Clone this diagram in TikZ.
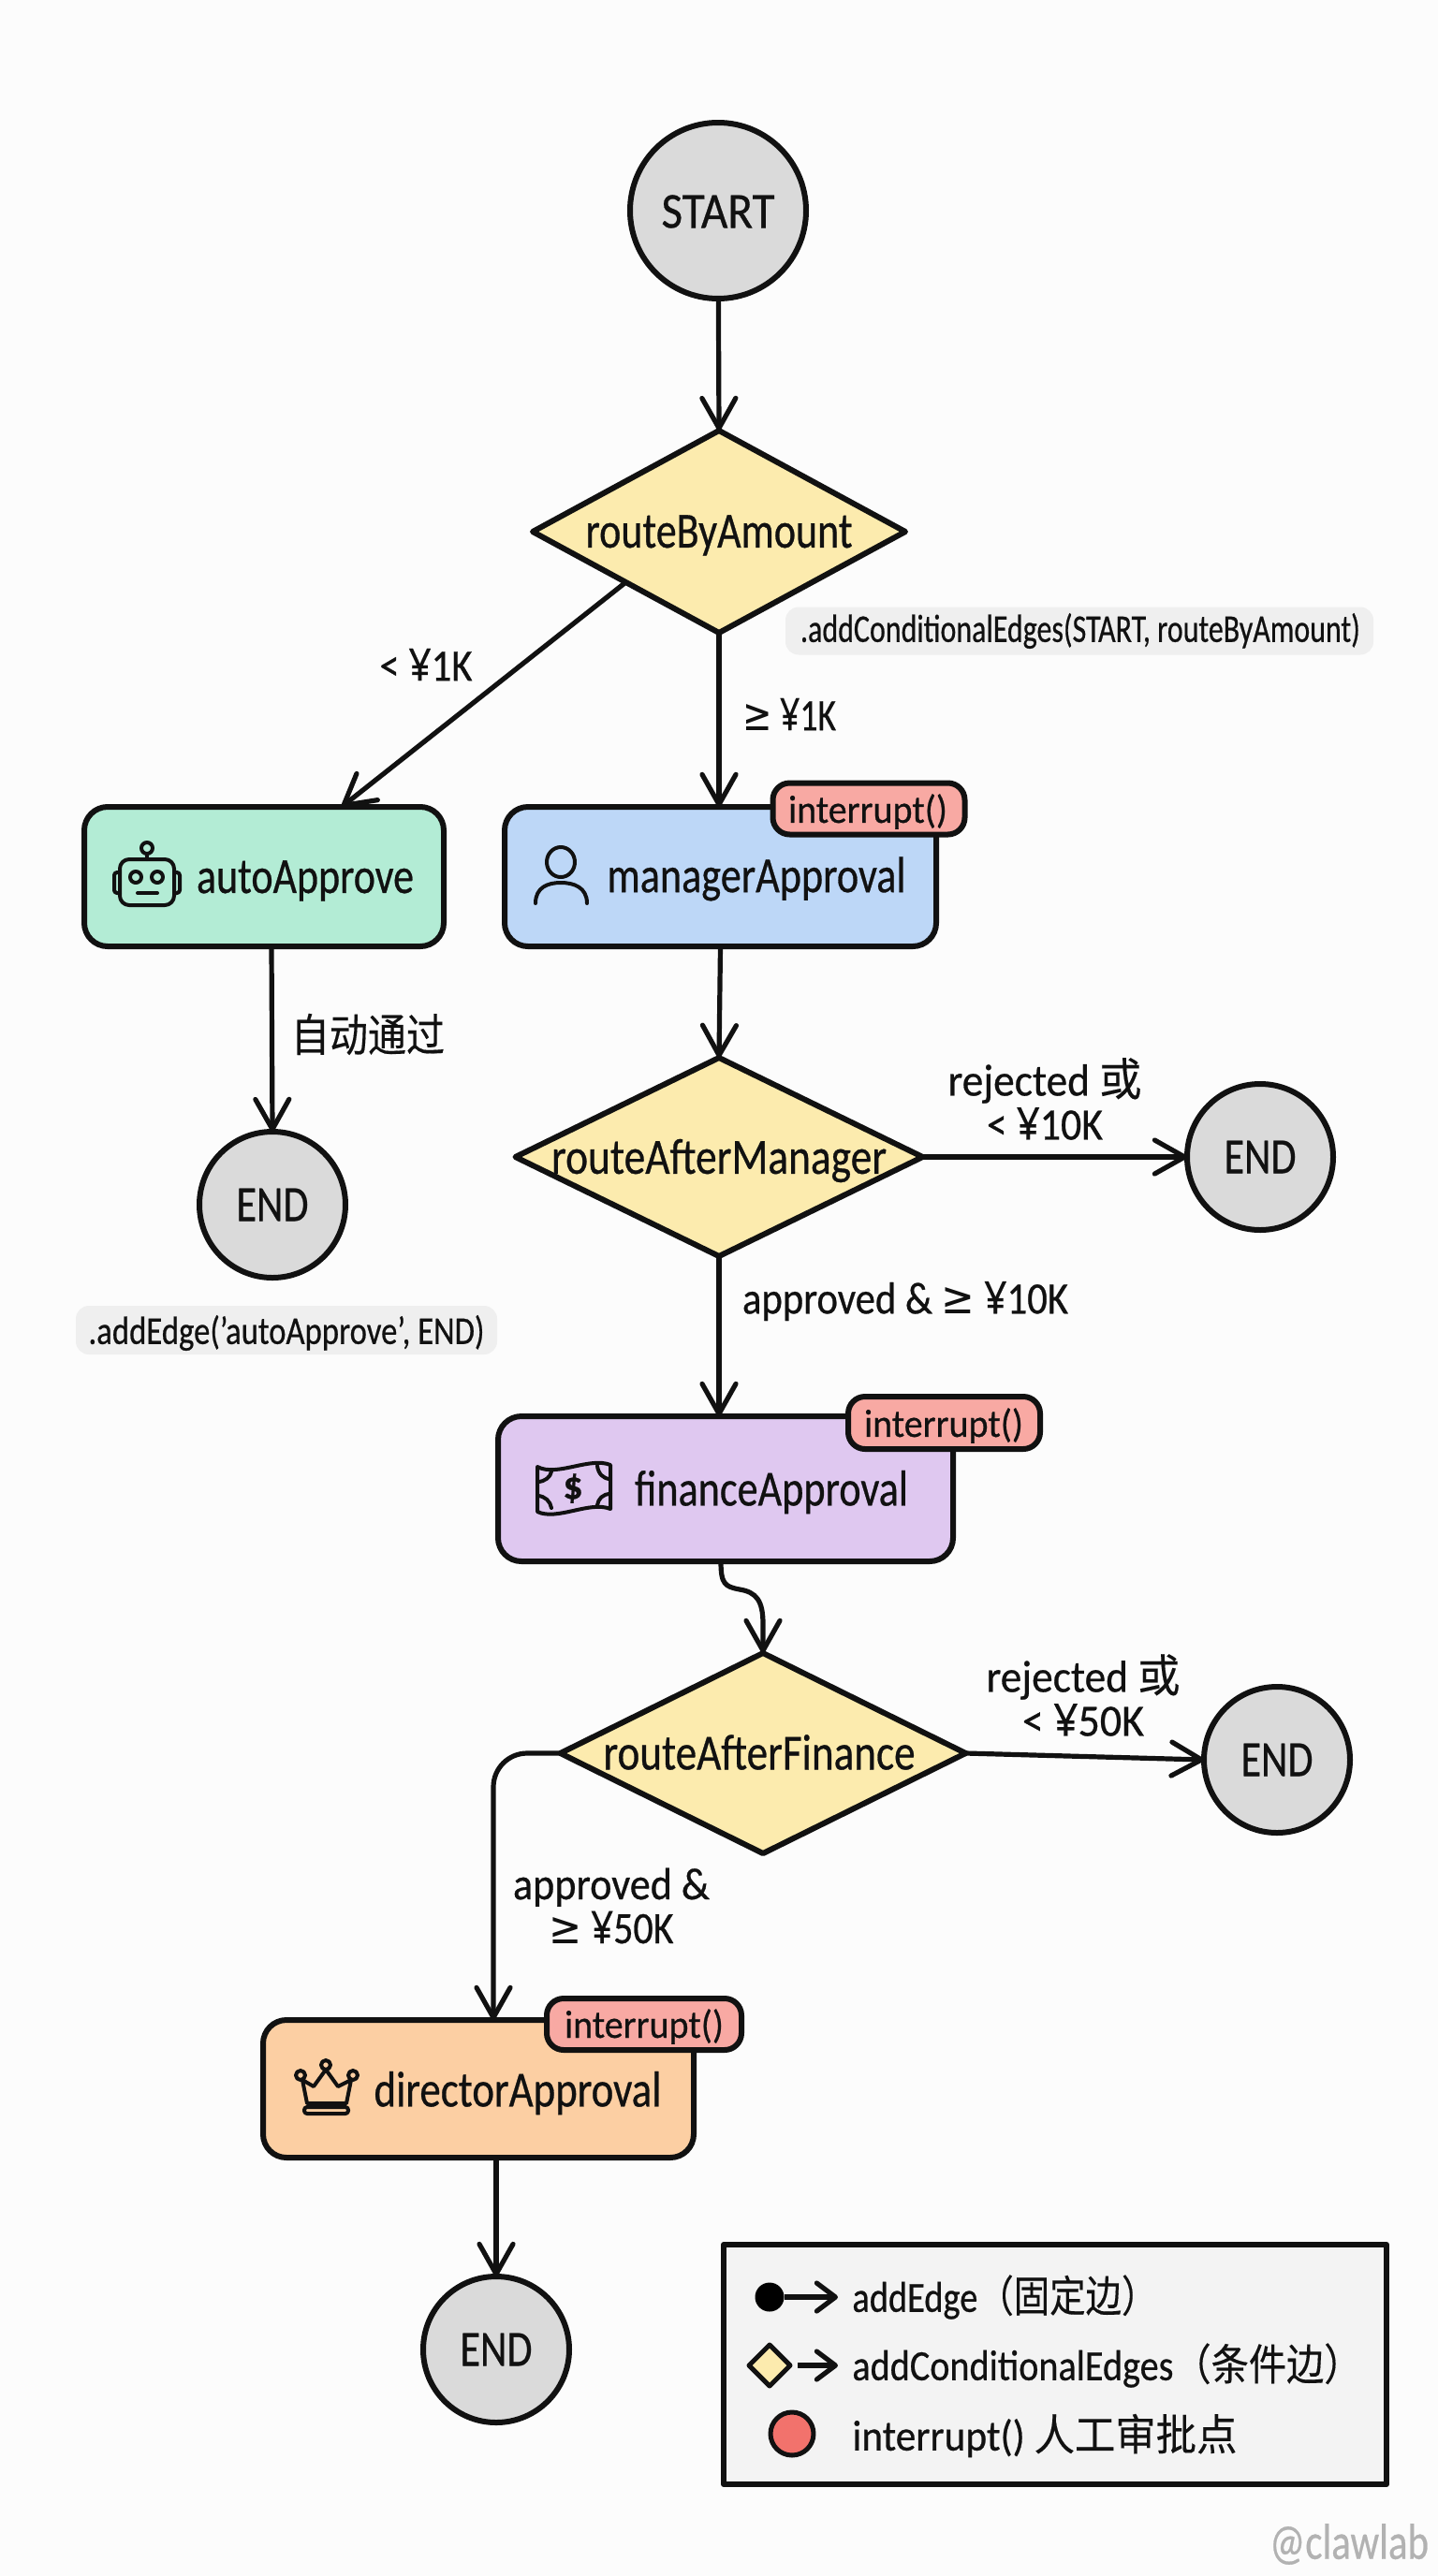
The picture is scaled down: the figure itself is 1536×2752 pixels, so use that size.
\documentclass[tikz,border=0pt]{standalone}
\usepackage{fontspec}
\usepackage{graphicx}
\setmainfont[FakeBold=0.6]{Carlito}
\newfontfamily\cjk[FakeBold=0.3]{Noto Sans CJK SC}
\newfontfamily\sym[FakeBold=0.3]{Noto Sans}
\newfontfamily\gsym{DejaVu Sans}
\usetikzlibrary{arrows.meta,shapes.geometric,calc}
\newcommand{\fw}[2]{\resizebox{\dimexpr#1pt/2\relax}{\height}{#2}}
\definecolor{ink}{HTML}{111111}
\definecolor{gbg}{HTML}{DADADA}
\definecolor{cyel}{HTML}{FCEBAE}
\definecolor{cgrn}{HTML}{B3ECD5}
\definecolor{cblu}{HTML}{BDD7F7}
\definecolor{cpur}{HTML}{DFC8F0}
\definecolor{corg}{HTML}{FCCFA3}
\definecolor{cred}{HTML}{F8A9A3}
\definecolor{cnote}{HTML}{EFEFEF}
\definecolor{cleg}{HTML}{F3F3F3}
\definecolor{cdot}{HTML}{F2726C}
\tikzset{
 outl/.style={draw=ink,line width=3pt,outer sep=0pt,inner sep=0pt,line join=round},
 term/.style={outl,circle,fill=gbg,minimum size=#1*0.5pt},
 cond/.style={outl,diamond,fill=cyel},
 proc/.style={outl,rectangle,rounded corners=12.5pt},
 badge/.style={outl,rectangle,rounded corners=9pt,fill=cred},
 tx/.style={inner sep=0pt,text=ink,font=\fontsize{27}{30}\selectfont},
 btx/.style={inner sep=0pt,text=ink,font=\fontsize{21}{24}\selectfont},
 lbl/.style={inner sep=0pt,text=ink,align=center,font=\fontsize{24}{23.5}\selectfont},
 note/.style={outl,draw=none,rectangle,rounded corners=7pt,fill=cnote},
 ntx/.style={inner sep=0pt,text=ink,font=\fontsize{21}{24}\selectfont},
 ltx/.style={inner sep=0pt,text=ink,anchor=west,font=\fontsize{23}{26}\selectfont},
 arr/.style={draw=ink,line width=2.6pt,-{Straight Barb[length=16pt,width=18pt,round]}},
 sarr/.style={draw=ink,line width=2.6pt,-{Straight Barb[length=10pt,width=15pt,round]}},
 icon/.style={draw=ink,line width=2pt,line cap=round,line join=round},
}
\begin{document}
\begin{tikzpicture}[x=0.5pt,y=-0.5pt]
\useasboundingbox (0,0) rectangle (1536,2752);
\fill[white!99!black] (0,0) rectangle (1536,2752);

% nodes
\node[term=188] (start) at (767,225) {};
\node[tx] (tstart) at (767,226) {\fw{121}{START}};
\node[cond,minimum width=199pt,minimum height=108pt] (d1) at (768,568) {};
\node[tx] (td1) at (768,572) {\fw{285}{routeByAmount}};
\node[note,minimum width=314pt,minimum height=25.5pt] (n1) at (1153,674) {};
\node[ntx] (tn1) at (1154,674) {\fw{598}{.addConditionalEdges(START, routeByAmount)}};

\node[proc,fill=cgrn,minimum width=192pt,minimum height=74.5pt] (auto) at (282,936.5) {};
\node[tx] (tauto) at (326,941) {\fw{232}{autoApprove}};
\node[proc,fill=cblu,minimum width=230.5pt,minimum height=74.5pt] (mgr) at (769.5,936.5) {};
\node[tx] (tmgr) at (808,939) {\fw{319}{managerApproval}};
\node[badge,minimum width=102.5pt,minimum height=27.5pt] (b1) at (928,864) {};
\node[btx] (tb1) at (927,867) {\fw{170}{interrupt()}};

\node[term=156] (e1) at (291,1287) {};
\node[tx] (te1) at (291,1287) {\fw{77}{END}};
\node[lbl] (l3) at (393,1105) {\fw{164}{\cjk 自动通过}};
\node[note,minimum width=225pt,minimum height=26pt] (n2) at (306,1421) {};
\node[ntx] (tn2) at (306,1424) {\fw{423}{.addEdge('autoApprove', END)}};

\node[cond,minimum width=217.5pt,minimum height=106pt] (d2) at (768,1236) {};
\node[tx] (td2) at (768,1240) {\fw{358}{routeAfterManager}};
\node[term=156] (e2) at (1346,1236) {};
\node[tx] (te2) at (1346,1236) {\fw{77}{END}};

\node[proc,fill=cpur,minimum width=243pt,minimum height=77.5pt] (fin) at (775,1590.5) {};
\node[tx] (tfin) at (824,1594) {\fw{292}{financeApproval}};
\node[badge,minimum width=102.5pt,minimum height=28pt] (b2) at (1008.5,1520) {};
\node[btx] (tb2) at (1008,1523) {\fw{170}{interrupt()}};

\node[cond,minimum width=216.5pt,minimum height=107pt] (d3) at (815,1873) {};
\node[tx] (td3) at (811,1872) {\fw{333}{routeAfterFinance}};
\node[term=156] (e3) at (1364,1880) {};
\node[tx] (te3) at (1364,1880) {\fw{77}{END}};

\node[proc,fill=corg,minimum width=230pt,minimum height=73.5pt] (dir) at (511,2231.5) {};
\node[tx] (tdir) at (553,2236) {\fw{307}{directorApproval}};
\node[badge,minimum width=104pt,minimum height=27.5pt] (b3) at (688,2162.5) {};
\node[btx] (tb3) at (688,2165) {\fw{170}{interrupt()}};
\node[term=156] (e4) at (530,2510) {};
\node[tx] (te4) at (530,2510) {\fw{77}{END}};

% labels
\node[lbl] (l1) at (455,710) {\fw{99}{< {\sym ¥}1K}};
\node[lbl] (l2) at (843,763) {\fw{100}{{\gsym ≥} {\sym ¥}1K}};
\node[lbl] (l4) at (1116,1174) {\fw{207}{rejected {\cjk 或}}\\\fw{124}{< {\sym ¥}10K}};
\node[lbl] (l5) at (967,1390) {\fw{348}{approved \& {\gsym ≥} {\sym ¥}10K}};
\node[lbl] (l6) at (1157,1811) {\fw{207}{rejected {\cjk 或}}\\\fw{130}{< {\sym ¥}50K}};
\node[lbl] (l7) at (653,2036) {\fw{210}{approved \&}\\\fw{133}{{\gsym ≥} {\sym ¥}50K}};

% connectors
\coordinate (autotop) at ([xshift=41.5pt]auto.north);
\coordinate (autobot) at ([xshift=4pt]auto.south);
\coordinate (finb) at ([xshift=-2.5pt]fin.south);
\coordinate (w1) at (790,1698);
\coordinate (dirtop) at ([xshift=8pt]dir.north);
\coordinate (dirbot) at ([xshift=9.5pt]dir.south);
\draw[arr] (start) -- (d1.north);
\draw[arr] (d1.south west) -- (autotop);
\draw[arr] (d1.south) -- (d1.south |- mgr.north);
\draw[arr] (autobot) -- (e1.north);
\draw[arr] (mgr.south) -- (d2.north);
\draw[arr] (d2.east) -- (e2.west);
\draw[arr] (d2.south) -- (d2.south |- fin.north);
\draw[arr] (finb) .. controls (770,1692) and (774,1695) .. (w1) .. controls (808,1701) and (815,1710) .. (815,1735) -- (d3.north);
\draw[arr] (d3.east) -- (e3.west);
\draw[arr,rounded corners=18pt] (d3.west) -| (dirtop);
\draw[arr] (dirbot) -- (e4.north);

% icons
\begin{scope}[icon]
 \draw[rounded corners=5pt] (128,918) rectangle (186,967);
 \draw[rounded corners=1.5pt] (128,932) -- (122,932) -- (122,954) -- (128,954);
 \draw[rounded corners=1.5pt] (186,932) -- (192,932) -- (192,954) -- (186,954);
 \draw (157,906) circle[radius=6];
 \draw (157,912) -- (157,918);
 \draw (145,937) circle[radius=6];
 \draw (168,937) circle[radius=6];
 \draw (147,954) -- (168,954);
 \draw (599,921) ellipse[x radius=15,y radius=16];
 \draw (572,965) .. controls (572,948) and (585,943) .. (599,943) .. controls (613,943) and (627,948) .. (627,965);
 \draw (574,1567) .. controls (595,1578) and (630,1556) .. (652,1565) -- (652,1612) .. controls (630,1603) and (595,1625) .. (574,1615) -- cycle;
 \draw (574,1583) .. controls (582,1583) and (588,1578) .. (589,1572);
 \draw (652,1580) .. controls (644,1580) and (639,1574) .. (638,1566);
 \draw (574,1598) .. controls (582,1598) and (588,1604) .. (589,1611);
 \draw (652,1596) .. controls (644,1596) and (639,1601) .. (638,1608);
 \draw (323,2222) -- (328,2247) -- (370,2247) -- (375,2222) -- (361,2229) -- (348,2211) -- (335,2229) -- cycle;
 \draw[rounded corners=1.5pt] (325,2251) rectangle (372,2258);
 \draw[fill=corg] (321,2217) circle[radius=5];
 \draw[fill=corg] (348,2206) circle[radius=5];
 \draw[fill=corg] (377,2217) circle[radius=5];
\end{scope}
\node[inner sep=0pt,text=ink,font=\fontsize{21}{24}\selectfont\bfseries] (dollar) at (612,1590) {\$};

% legend
\node[outl,rectangle,fill=cleg,minimum width=354pt,minimum height=128pt] (leg) at (1127,2526) {};
\node[circle,fill=black,inner sep=0pt,outer sep=0pt,minimum size=15.5pt] (ldot) at (822,2454) {};
\coordinate (le1) at (895,2454);
\draw[sarr] (ldot) -- (le1);
\node[ltx] (lt1) at (910,2454) {\fw{326}{addEdge{\cjk （固定边）}}};
\node[outl,diamond,fill=cyel,line width=2.5pt,minimum width=22pt,minimum height=22pt] (ldia) at (822,2527) {};
\coordinate (le2) at (895,2527);
\draw[sarr] ([xshift=4pt]ldia.east) -- (le2);
\node[ltx] (lt2) at (910,2527) {\fw{544}{addConditionalEdges{\cjk （条件边）}}};
\node[outl,circle,fill=cdot,line width=2.5pt,minimum size=23pt] (lred) at (846,2600) {};
\node[ltx] (lt3) at (910,2602) {\fw{411}{interrupt() {\cjk 人工审批点}}};

\node[inner sep=0pt,text=black!30,font=\fontsize{27}{30}\selectfont] (wm) at (1441,2718) {\fw{170}{@clawlab}};
\end{tikzpicture}
\end{document}
